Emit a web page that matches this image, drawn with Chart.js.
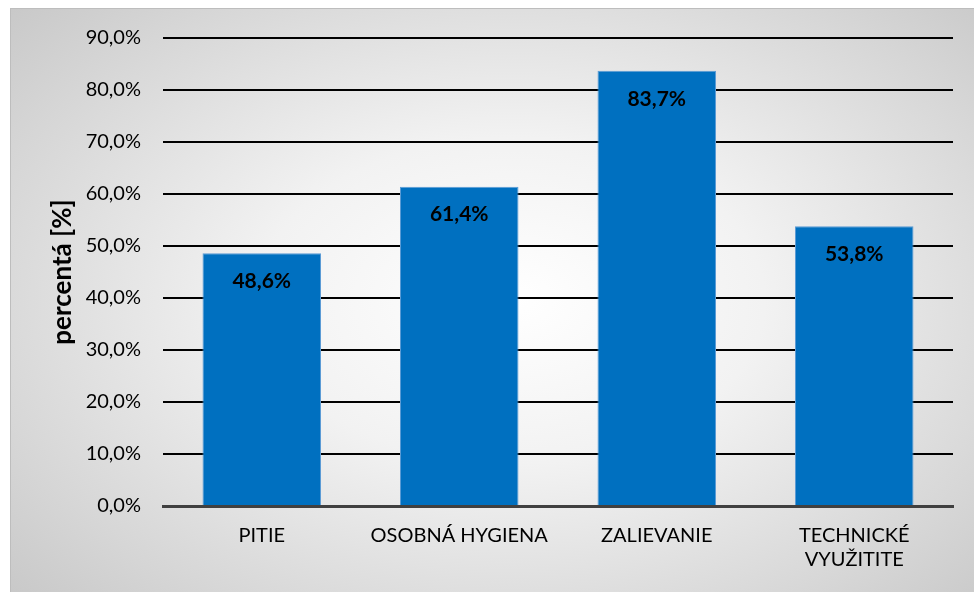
<!DOCTYPE html>
<html lang="sk">
<head>
    <meta charset="UTF-8">
    <title>Percentá</title>
    <script src="https://cdn.jsdelivr.net/npm/chart.js"></script>
    <style>
        html, body { margin: 0; padding: 0; background: #fff; }
        .box {
            position: absolute; left: 10px; top: 8px; width: 964px; height: 584px;
            background: radial-gradient(ellipse 75% 80% at 52% 50%, #ffffff 0%, #f2f2f2 35%, #d6d6d6 75%, #c4c4c4 100%);
            border-top: 1px solid #bdbdbd; border-left: 1px solid #bdbdbd;
            box-sizing: border-box;
        }
        canvas { display: block; }
    </style>
</head>
<body>
    <div class="box"><canvas id="c" width="963" height="583"></canvas></div>
    <script>
        const categories = ['PITIE', 'OSOBNÁ HYGIENA', 'ZALIEVANIE', ['TECHNICKÉ', 'VYUŽITITE']];
        const values = [48.6, 61.4, 83.7, 53.8];
        const yTicks = [0, 10, 20, 30, 40, 50, 60, 70, 80, 90];

        const fmt = v => v.toFixed(1).replace('.', ',') + '%';

        const barLabels = {
            id: 'barLabels',
            afterDatasetsDraw(chart) {
                const ctx = chart.ctx;
                const meta = chart.getDatasetMeta(0);
                ctx.save();
                ctx.font = 'bold 21px Lato';
                ctx.fillStyle = '#000';
                ctx.textAlign = 'center';
                ctx.textBaseline = 'middle';
                meta.data.forEach((bar, i) => {
                    ctx.fillText(fmt(values[i]), bar.x, bar.y + 28);
                });
                ctx.restore();
            }
        };

        new Chart(document.getElementById('c'), {
            type: 'bar',
            data: {
                labels: categories,
                datasets: [{
                    data: values,
                    backgroundColor: '#0070C0',
                    borderColor: '#5B9BD5',
                    borderWidth: 1,
                    borderSkipped: 'bottom',
                    barPercentage: 0.6,
                    categoryPercentage: 1
                }]
            },
            options: {
                responsive: false,
                animation: false,
                layout: { padding: { top: 29, right: 21, bottom: 0, left: 0 } },
                plugins: { legend: { display: false }, tooltip: { enabled: false } },
                scales: {
                    x: {
                        grid: { display: false },
                        border: { display: true, color: '#404040', width: 3 },
                        ticks: { color: '#000', font: { family: 'Lato', size: 20 }, padding: 10 },
                        afterFit(s) { s.height = 86; }
                    },
                    y: {
                        min: 0, max: 90,
                        afterBuildTicks(s) { s.ticks = yTicks.map(v => ({ value: v })); },
                        grid: { color: '#000', lineWidth: 2, drawTicks: false },
                        border: { display: false },
                        ticks: {
                            color: '#000', padding: 22,
                            font: { family: 'Lato', size: 20 },
                            callback: v => fmt(v)
                        },
                        title: {
                            display: true, text: 'percentá [%]', color: '#000',
                            font: { family: 'Lato', size: 26, weight: 'bold' },
                            padding: { top: 36, bottom: 0 }
                        },
                        afterFit(s) {
                            s.width = 152;
                            s.paddingTop = 0;
                            s.paddingBottom = 0;
                        }
                    }
                }
            },
            plugins: [barLabels]
        });
    </script>
</body>
</html>
